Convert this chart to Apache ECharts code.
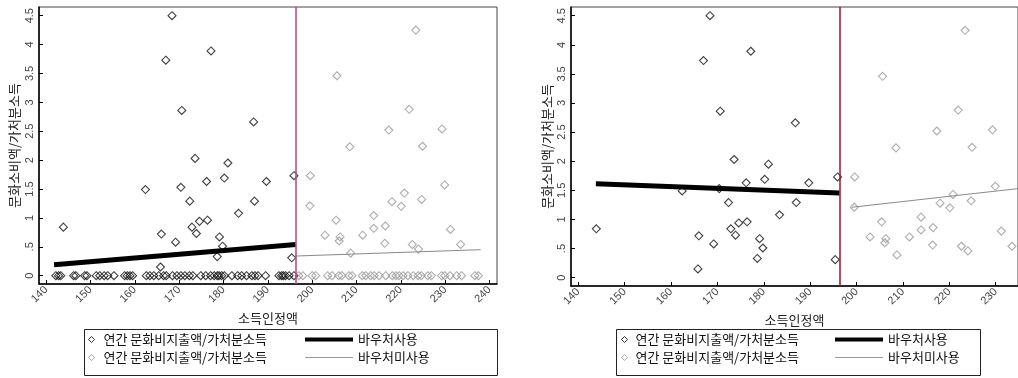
<!DOCTYPE html>
<html><head><meta charset="utf-8">
<script src="https://cdn.jsdelivr.net/npm/echarts@6/dist/echarts.min.js"></script>
<style>html,body{margin:0;padding:0;background:#fff}#c{width:1018px;height:378px}</style>
</head><body><div id="c"></div>
<script>
// ---- data ----
const cutoff = 196.3;
const xTicks = [140,150,160,170,180,190,200,210,220,230,240];
const yTicks = [0,0.5,1,1.5,2,2.5,3,3.5,4,4.5];
const pointX = [143.9,162.4,166.0,165.8,167.0,168.4,169.2,170.4,170.6,172.4,172.9,173.9,173.6,174.6,176.4,176.2,177.2,179.1,178.6,179.8,180.2,181.0,183.4,187.0,186.8,189.7,195.4,195.9,
  199.5,199.6,202.9,205.4,205.6,206.3,206.1,208.5,208.7,211.4,213.9,213.9,216.5,216.4,217.3,218.0,220.1,220.8,221.9,222.6,223.4,224.0,224.7,224.9,229.3,229.9,231.2,233.5];
const pointY = [0.84,1.49,0.72,0.15,3.73,4.50,0.58,1.53,2.86,1.29,0.84,0.73,2.03,0.94,0.96,1.63,3.89,0.67,0.33,0.51,1.69,1.95,1.08,1.29,2.66,1.63,0.31,1.73,
  1.21,1.73,0.70,0.96,3.46,0.67,0.60,2.23,0.39,0.70,1.04,0.82,0.86,0.56,2.52,1.28,1.20,1.43,2.88,0.54,4.25,0.46,1.32,2.24,2.54,1.57,0.80,0.54];
const zeroX = [142.2,142.8,143.3,146.2,146.7,148.7,149.2,151.3,152.1,153.1,153.9,155.3,157.7,158.3,158.9,159.5,162.6,163.4,164.3,165.4,166.5,167.1,168.5,169.5,170.4,171.3,172.3,173.1,174.9,176.0,177.1,177.9,178.6,179.0,179.6,180.2,181.9,183.2,184.1,185.2,186.4,187.1,187.8,189.5,192.5,193.1,193.5,194.0,194.8,195.9,
  197.0,197.9,200.0,200.8,203.5,204.5,206.0,206.7,208.3,209.0,211.3,212.1,213.2,214.0,215.1,216.6,218.1,218.9,219.6,220.5,221.6,222.8,223.9,224.6,226.1,226.9,229.2,229.9,231.1,232.6,233.7,236.7,237.5];
const fitUsedLeft = [[141.8,0.19],[196.3,0.54]];
const fitUnusedLeft = [[196.3,0.34],[238.0,0.45]];
const fitUsedRight = [[143.8,1.615],[196.3,1.455]];
const fitUnusedRight = [[199.0,1.21],[234.8,1.53]];

const NAME_DOT = '연간 문화비지출액/가처분소득';
const NAME_DOT2 = NAME_DOT + ' ';
const NAME_USED = '바우처사용';
const NAME_UNUSED = '바우처미사용';
const X_TITLE = '소득인정액';
const Y_TITLE = '문화소비액/가처분소득';

// ---- build ----
const nz = pointX.map((x,i)=>[x,pointY[i]]);
const zs = zeroX.map(x=>[x,0]);
const usedL = nz.filter(p=>p[0]<=cutoff).concat(zs.filter(p=>p[0]<=cutoff));
const unusedL = nz.filter(p=>p[0]>cutoff).concat(zs.filter(p=>p[0]>cutoff));
const usedR = nz.filter(p=>p[0]<=cutoff);
const unusedR = nz.filter(p=>p[0]>cutoff);

const KR = '"Noto Sans CJK KR", sans-serif';
const NUM = '"Liberation Sans", Arial, sans-serif';

function xAxis(gi, min, max){
  return {type:'value', gridIndex:gi, min:min, max:max,
    axisLine:{show:true,onZero:false,lineStyle:{color:'#000',width:1.5}},
    axisTick:{show:true,inside:true,length:4,customValues:xTicks,lineStyle:{color:'#000'}},
    axisLabel:{customValues:xTicks,rotate:45,margin:4,fontSize:11,fontFamily:NUM,color:'#444'},
    splitLine:{show:false},
    name:X_TITLE,nameLocation:'middle',nameGap:22,
    nameTextStyle:{fontSize:13,fontFamily:KR,color:'#222'}};
}
function yAxis(gi, min, max, gap){
  return {type:'value', gridIndex:gi, min:min, max:max,
    axisLine:{show:true,onZero:false,lineStyle:{color:'#000',width:1.5}},
    axisTick:{show:true,inside:true,length:4,customValues:yTicks,lineStyle:{color:'#000'}},
    axisLabel:{customValues:yTicks,rotate:90,margin:4,fontSize:11,fontFamily:NUM,color:'#444',
      formatter:v=>{ if(v===0) return '0'; let s=String(v); if(s.startsWith('0.')) s=s.slice(1); return s; }},
    splitLine:{show:false},
    name:Y_TITLE,nameLocation:'middle',nameGap:gap,
    nameTextStyle:{fontSize:13,fontFamily:KR,color:'#222'}};
}
function dots(name, data, gi, color, red){
  const s = {type:'scatter', name:name, xAxisIndex:gi, yAxisIndex:gi, data:data,
    symbol:'diamond', symbolSize:8, silent:true,
    itemStyle:{color:'rgba(0,0,0,0)', borderColor:color, borderWidth:1.1}};
  if(red){
    s.markLine = {silent:true, symbol:'none', label:{show:false},
      lineStyle:{color:red,width:1.5,type:'solid'}, data:[{xAxis:cutoff}]};
  }
  return s;
}
function fit(name, data, gi, color, w){
  return {type:'line', name:name, xAxisIndex:gi, yAxisIndex:gi, data:data,
    symbol:'none', silent:true, z:3, itemStyle:{color:color},
    lineStyle:{color:color,width:w}};
}
function legends(diamondLeft, lineLeft, pad){
  const base = {orient:'horizontal', padding:0, selectedMode:false,
    textStyle:{fontSize:13,fontFamily:KR,color:'#111'}};
  return [
    Object.assign({}, base, {left:diamondLeft, top:333, itemWidth:6, itemHeight:6,
      textStyle:Object.assign({},base.textStyle,{padding:[0,0,0,pad]}),
      data:[{name:NAME_DOT, icon:'diamond', itemStyle:{color:'rgba(0,0,0,0)',borderColor:'#000',borderWidth:1}}]}),
    Object.assign({}, base, {left:diamondLeft, top:351, itemWidth:6, itemHeight:6,
      textStyle:Object.assign({},base.textStyle,{padding:[0,0,0,pad]}),
      data:[{name:NAME_DOT2, icon:'diamond', itemStyle:{color:'rgba(0,0,0,0)',borderColor:'#999',borderWidth:1}}]}),
    Object.assign({}, base, {left:lineLeft, top:333, itemWidth:48, itemHeight:4,
      data:[{name:NAME_USED, icon:'rect', itemStyle:{color:'#000',borderWidth:0}}]}),
    Object.assign({}, base, {left:lineLeft, top:351, itemWidth:48, itemHeight:1,
      data:[{name:NAME_UNUSED, icon:'rect', itemStyle:{color:'#999',borderWidth:0}}]})
  ];
}

const option = {
  animation:false,
  backgroundColor:'#fff',
  grid:[
    {left:39, top:7, right:1018-497, bottom:378-284, show:true, borderColor:'#444', borderWidth:1, backgroundColor:'#fff'},
    {left:571, top:7, right:1018-1023, bottom:378-286, show:true, borderColor:'#444', borderWidth:1, backgroundColor:'#fff'}
  ],
  xAxis:[xAxis(0,138.4,241.7), xAxis(1,138.44,234.8)],
  yAxis:[yAxis(0,-0.144,4.65,18), yAxis(1,-0.143,4.65,17)],
  legend: legends(88,305,4).concat(legends(621,835,3)),
  graphic:[
    {type:'rect', shape:{x:84.5,y:329.5,width:413,height:46}, style:{fill:'none',stroke:'#222',lineWidth:1}, silent:true},
    {type:'rect', shape:{x:616.5,y:329.5,width:364,height:46}, style:{fill:'none',stroke:'#222',lineWidth:1}, silent:true}
  ],
  series:[
    dots(NAME_DOT, usedL, 0, '#111', '#c0427a'),
    dots(NAME_DOT2, unusedL, 0, '#999'),
    fit(NAME_USED, fitUsedLeft, 0, '#000', 5),
    fit(NAME_UNUSED, fitUnusedLeft, 0, '#8a8a8a', 1),
    dots(NAME_DOT, usedR, 1, '#111', '#a0102a'),
    dots(NAME_DOT2, unusedR, 1, '#999'),
    fit(NAME_USED, fitUsedRight, 1, '#000', 5),
    fit(NAME_UNUSED, fitUnusedRight, 1, '#8a8a8a', 1)
  ]
};
const chart = echarts.init(document.getElementById('c'), null, {renderer:'canvas'});
chart.setOption(option);
</script></body></html>
